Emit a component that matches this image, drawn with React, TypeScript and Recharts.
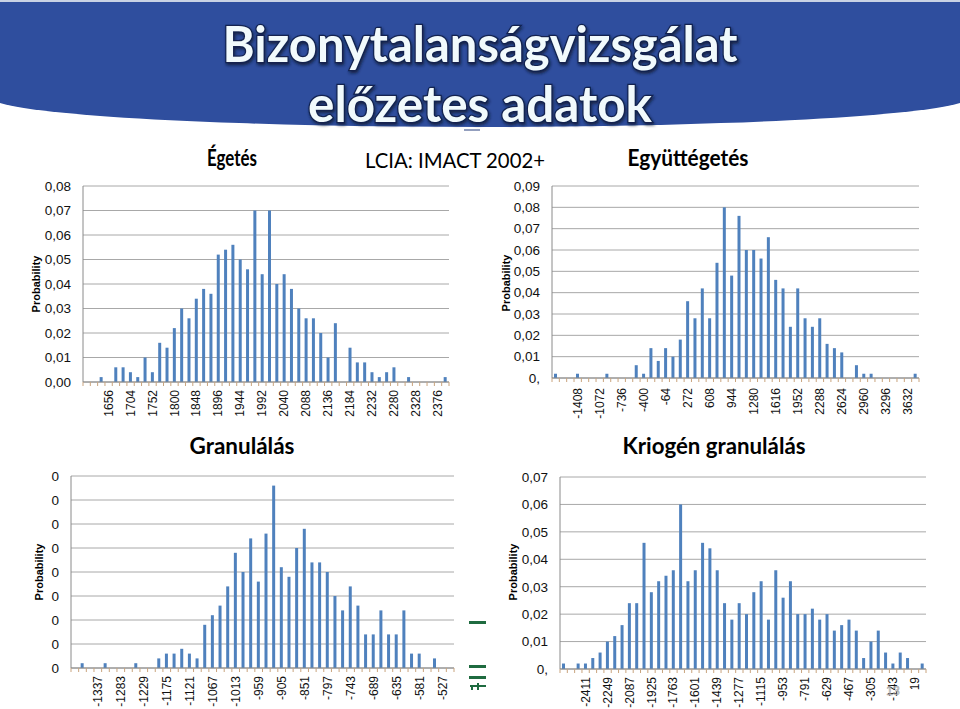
import { BarChart, Bar, XAxis, YAxis, CartesianGrid } from 'recharts'

// Égetés
const EGETES_BINS = [
  1608, 1624, 1640, 1656, 1672, 1688, 1704, 1720, 1736, 1752,
  1768, 1784, 1800, 1816, 1832, 1848, 1864, 1880, 1896, 1912,
  1928, 1944, 1960, 1976, 1992, 2008, 2024, 2040, 2056, 2072,
  2088, 2104, 2120, 2136, 2152, 2168, 2184, 2200, 2216, 2232,
  2248, 2264, 2280, 2296, 2312, 2328, 2344, 2360, 2376, 2392,
]
const EGETES_PROB = [
  0, 0, 0.002, 0, 0.006, 0.006, 0.004, 0.002, 0.01, 0.004,
  0.016, 0.014, 0.022, 0.03, 0.026, 0.034, 0.038, 0.036, 0.052, 0.054,
  0.056, 0.05, 0.046, 0.07, 0.044, 0.07, 0.04, 0.044, 0.038, 0.03,
  0.026, 0.026, 0.02, 0.01, 0.024, 0, 0.014, 0.008, 0.008, 0.004,
  0.002, 0.004, 0.006, 0, 0.002, 0, 0, 0, 0, 0.002,
]

// Együttégetés
const EGYUTT_BINS = [
  -1744, -1632, -1520, -1408, -1296, -1184, -1072, -960, -848, -736,
  -624, -512, -400, -288, -176, -64, 48, 160, 272, 384,
  496, 608, 720, 832, 944, 1056, 1168, 1280, 1392, 1504,
  1616, 1728, 1840, 1952, 2064, 2176, 2288, 2400, 2512, 2624,
  2736, 2848, 2960, 3072, 3184, 3296, 3408, 3520, 3632, 3744,
]
const EGYUTT_PROB = [
  0.002, 0, 0, 0.002, 0, 0, 0, 0.002, 0, 0,
  0, 0.006, 0.002, 0.014, 0.008, 0.014, 0.01, 0.018, 0.036, 0.028,
  0.042, 0.028, 0.054, 0.08, 0.048, 0.076, 0.06, 0.06, 0.056, 0.066,
  0.046, 0.042, 0.024, 0.042, 0.028, 0.024, 0.028, 0.016, 0.014, 0.012,
  0, 0.006, 0.002, 0.002, 0, 0, 0, 0, 0, 0.002,
]

// Granulálás
const GRAN_BINS = [
  -1391, -1373, -1355, -1337, -1319, -1301, -1283, -1265, -1247, -1229,
  -1211, -1193, -1175, -1157, -1139, -1121, -1103, -1085, -1067, -1049,
  -1031, -1013, -995, -977, -959, -941, -923, -905, -887, -869,
  -851, -833, -815, -797, -779, -761, -743, -725, -707, -689,
  -671, -653, -635, -617, -599, -581, -563, -545, -527, -509,
]
const GRAN_PROB = [
  0, 0.002, 0, 0, 0.002, 0, 0, 0, 0.002, 0,
  0, 0.004, 0.006, 0.006, 0.008, 0.006, 0.004, 0.018, 0.022, 0.026,
  0.034, 0.048, 0.04, 0.054, 0.036, 0.056, 0.076, 0.042, 0.038, 0.05,
  0.058, 0.044, 0.044, 0.04, 0.03, 0.024, 0.034, 0.026, 0.014, 0.014,
  0.024, 0.014, 0.014, 0.024, 0.006, 0.006, 0, 0.004, 0, 0,
]

// Kriogén granulálás
const KRIO_BINS = [
  -2573, -2519, -2465, -2411, -2357, -2303, -2249, -2195, -2141, -2087,
  -2033, -1979, -1925, -1871, -1817, -1763, -1709, -1655, -1601, -1547,
  -1493, -1439, -1385, -1331, -1277, -1223, -1169, -1115, -1061, -1007,
  -953, -899, -845, -791, -737, -683, -629, -575, -521, -467,
  -413, -359, -305, -251, -197, -143, -89, -35, 19, 73,
]
const KRIO_PROB = [
  0.002, 0, 0.002, 0.002, 0.004, 0.006, 0.01, 0.012, 0.016, 0.024,
  0.024, 0.046, 0.028, 0.032, 0.034, 0.036, 0.06, 0.032, 0.036, 0.046,
  0.044, 0.036, 0.024, 0.018, 0.024, 0.02, 0.028, 0.032, 0.018, 0.036,
  0.026, 0.032, 0.02, 0.02, 0.022, 0.018, 0.02, 0.014, 0.016, 0.018,
  0.014, 0.004, 0.01, 0.014, 0.006, 0.002, 0.006, 0.004, 0, 0.002,
]

const TICKS_08 = [0, 0.01, 0.02, 0.03, 0.04, 0.05, 0.06, 0.07, 0.08]
const TICKS_09 = [0, 0.01, 0.02, 0.03, 0.04, 0.05, 0.06, 0.07, 0.08, 0.09]
const TICKS_07 = [0, 0.01, 0.02, 0.03, 0.04, 0.05, 0.06, 0.07]

const FONT = '"Liberation Sans", Arial, sans-serif'
const HEAD_FONT = 'Lato, "Open Sans", sans-serif'

const fmtFull = (v: number) => v.toFixed(2).replace('.', ',')
const fmtShort = (v: number) => (v === 0 ? '0,' : v.toFixed(2).replace('.', ','))
const fmtZero = () => '0'

function BinTick(props: any) {
  const { x, y, payload, index, band, n, gap } = props
  const show = index % 3 === 0 && index > 0
  const left = x - band / 2
  return (
    <g>
      <line x1={left} x2={left} y1={y} y2={y + 4} stroke="#C9A47E" />
      {index === n - 1 && <line x1={x + band / 2} x2={x + band / 2} y1={y} y2={y + 4} stroke="#C9A47E" />}
      {show && (
        <text
          x={x}
          y={y + gap}
          transform={`rotate(-90 ${x} ${y + gap})`}
          textAnchor="end"
          dominantBaseline="central"
          fontSize={12}
          fontFamily={FONT}
          fill="#111"
        >
          {payload.value}
        </text>
      )}
    </g>
  )
}

interface HistProps {
  bins: number[]
  probs: number[]
  ticks: number[]
  fmt: (v: number) => string
  x: number
  y: number
  w: number
  h: number
  yw: number
  mr: number
  xh: number
  gap?: number
}

function Histogram({ bins, probs, ticks, fmt, x, y, w, h, yw, mr, xh, gap = 8 }: HistProps) {
  const data = bins.map((b, i) => ({ bin: b, p: probs[i] }))
  const band = (w - yw - mr) / bins.length
  return (
    <div style={{ position: 'absolute', left: x, top: y }}>
      <BarChart width={w} height={h} data={data} margin={{ top: 10, right: mr, bottom: 0, left: 0 }} barCategoryGap={0}>
        <CartesianGrid vertical={false} stroke="#A8A8A8" />
        <XAxis
          dataKey="bin"
          interval={0}
          height={xh}
          tickLine={false}
          tickSize={0}
          tickMargin={0}
          stroke="#8A8A8A"
          tick={(p: any) => <BinTick {...p} band={band} n={bins.length} gap={gap} />}
        />
        <YAxis
          width={yw}
          domain={[0, ticks[ticks.length - 1]]}
          ticks={ticks}
          interval={0}
          tickFormatter={fmt}
          tickLine={false}
          tickSize={0}
          tickMargin={12}
          stroke="#8A8A8A"
          tick={{ fill: '#111', fontSize: 13.5, fontFamily: FONT }}
        />
        <Bar dataKey="p" fill="#4F81BD" barSize={3} isAnimationActive={false} />
      </BarChart>
    </div>
  )
}

function ProbLabel({ x, y }: { x: number; y: number }) {
  return (
    <text
      x={x}
      y={y}
      transform={`rotate(-90 ${x} ${y})`}
      textAnchor="middle"
      dominantBaseline="central"
      fontSize={11}
      fontWeight="bold"
      fontFamily={FONT}
      fill="#000"
    >
      Probability
    </text>
  )
}

export default function App() {
  return (
    <div style={{ position: 'absolute', left: 0, top: 0, width: 960, height: 709, overflow: 'hidden', background: '#fff' }}>
      <svg width={960} height={709} style={{ position: 'absolute', left: 0, top: 0 }}>
        <defs>
          <filter id="glow" x="-10%" y="-30%" width="120%" height="160%">
            <feDropShadow dx="1" dy="2" stdDeviation="1.5" floodColor="#0b1633" floodOpacity="0.8" />
          </filter>
        </defs>
        <path d="M0,0 H960 V103 A490,30 0 0 1 0,103 Z" fill="#2F4E9E" />
        <rect x={0} y={0} width={960} height={2} fill="#C9D2E4" />
        <line x1={464} x2={480} y1={130} y2={130} stroke="#6F7FA8" strokeWidth={1.5} />
        <g fontFamily={HEAD_FONT} fontWeight="bold" textAnchor="middle" filter="url(#glow)">
          <text x={480} y={62} fontSize={50} textLength={515} lengthAdjust="spacingAndGlyphs"
            fill="#F1FAFC" stroke="#12224F" strokeWidth={2.5} paintOrder="stroke">
            Bizonytalanságvizsgálat
          </text>
          <text x={480} y={122} fontSize={50} textLength={344} lengthAdjust="spacingAndGlyphs"
            fill="#F1FAFC" stroke="#12224F" strokeWidth={2.5} paintOrder="stroke">
            előzetes adatok
          </text>
        </g>
        <g fontFamily={HEAD_FONT} textAnchor="middle" fill="#000">
          <text x={232} y={166} fontSize={23} fontWeight="bold" textLength={50} lengthAdjust="spacingAndGlyphs">Égetés</text>
          <text x={455} y={168} fontSize={21} textLength={180} lengthAdjust="spacingAndGlyphs">LCIA: IMACT 2002+</text>
          <text x={688} y={166} fontSize={23} fontWeight="bold" textLength={121} lengthAdjust="spacingAndGlyphs">Együttégetés</text>
          <text x={242} y={454} fontSize={23} fontWeight="bold" textLength={105} lengthAdjust="spacingAndGlyphs">Granulálás</text>
          <text x={714} y={454} fontSize={23} fontWeight="bold" textLength={183} lengthAdjust="spacingAndGlyphs">Kriogén granulálás</text>
        </g>
        <ProbLabel x={36} y={284} />
        <ProbLabel x={506} y={283} />
        <ProbLabel x={39} y={572} />
        <ProbLabel x={513} y={572} />
        <g fill="#1F6B40">
          <rect x={469} y={621} width={17} height={3} />
          <rect x={469} y={665} width={17} height={3} />
          <rect x={469} y={676} width={17} height={3} />
          <path d="M470,686 H486 M472,686 V690 M478,683 V690" stroke="#1F6B40" strokeWidth={2} fill="none" />
        </g>
      </svg>

      <Histogram bins={EGETES_BINS} probs={EGETES_PROB} ticks={TICKS_08} fmt={fmtFull}
        x={0} y={176} w={470} h={250} yw={83} mr={21} xh={44} />
      <Histogram bins={EGYUTT_BINS} probs={EGYUTT_PROB} ticks={TICKS_09} fmt={fmtShort}
        x={480} y={176} w={470} h={250} yw={72} mr={31} xh={48} gap={10} />
      <Histogram bins={GRAN_BINS} probs={GRAN_PROB} ticks={TICKS_08} fmt={fmtZero}
        x={0} y={466} w={470} h={243} yw={71} mr={16} xh={41} />
      <Histogram bins={KRIO_BINS} probs={KRIO_PROB} ticks={TICKS_07} fmt={fmtShort}
        x={480} y={467} w={470} h={242} yw={80} mr={24} xh={40} />

      <svg width={960} height={709} style={{ position: 'absolute', left: 0, top: 0, pointerEvents: 'none' }}>
        <text x={893} y={695} fontSize={12} fontFamily={FONT} textAnchor="middle" fill="none" stroke="#A8A8A8" strokeWidth={0.7}>13</text>
      </svg>
    </div>
  )
}
